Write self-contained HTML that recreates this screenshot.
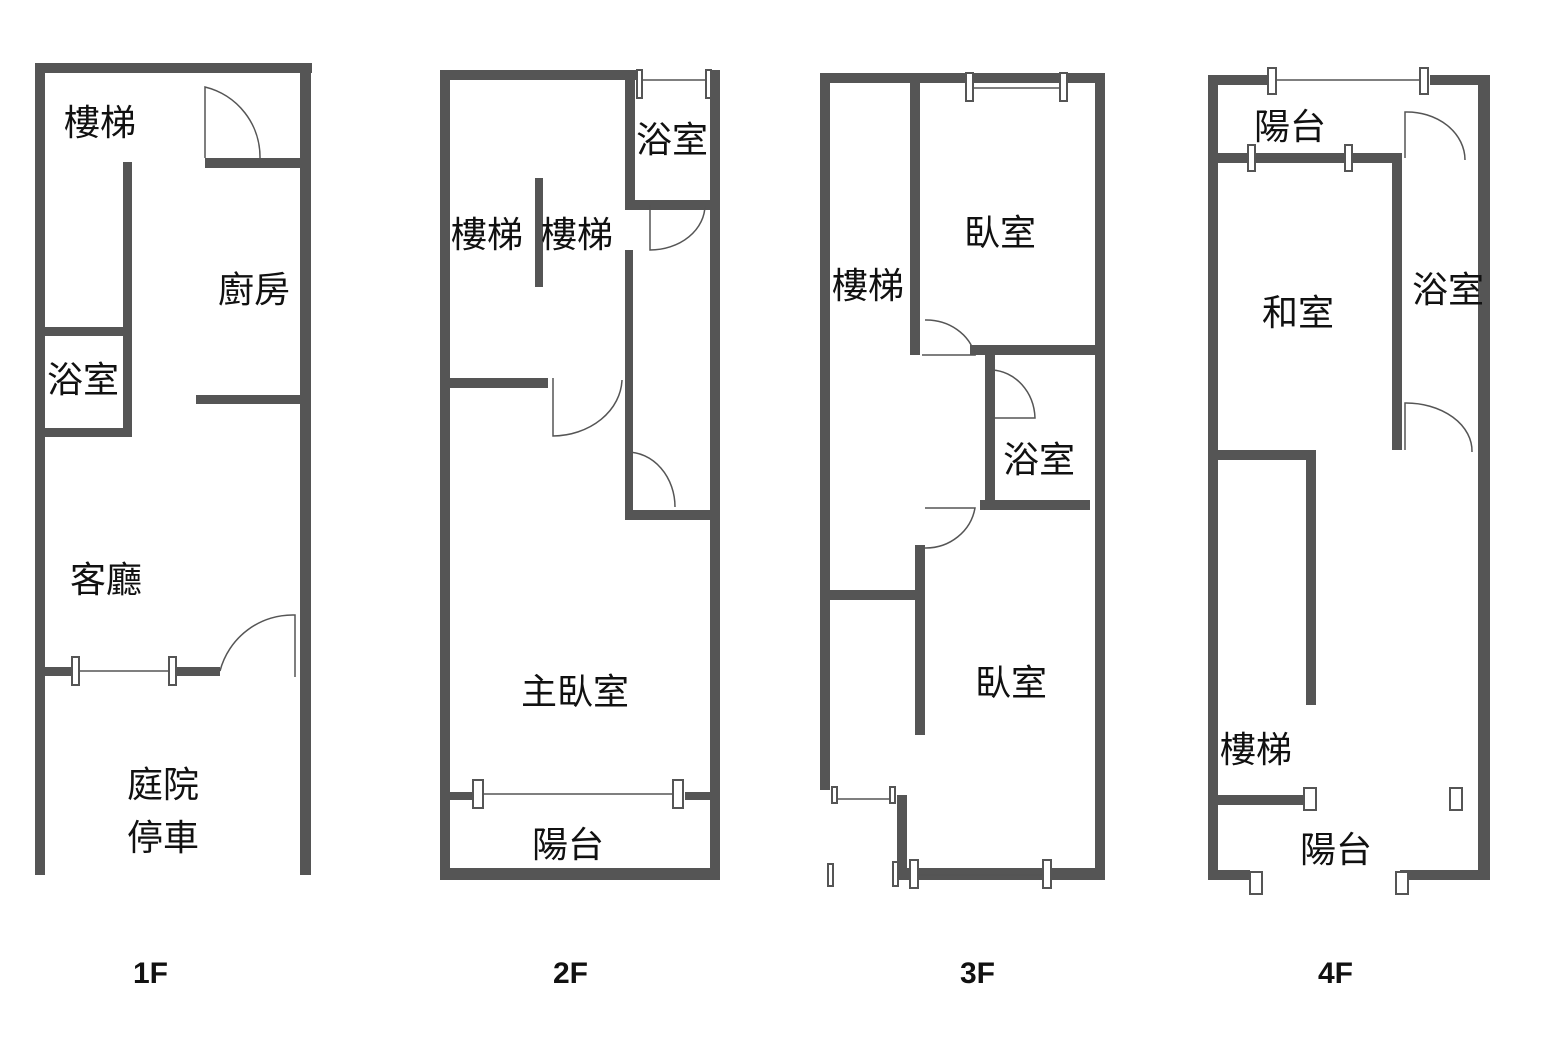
<!DOCTYPE html>
<html><head><meta charset="utf-8"><style>
html,body{margin:0;padding:0;background:#fff;}
svg{display:block;}
text{font-family:"Liberation Sans","Noto Sans CJK TC",sans-serif;fill:#111;}
.l{font-size:36px;}
.f{font-size:30px;font-weight:bold;}
</style></head><body>
<svg width="1565" height="1046" viewBox="0 0 1565 1046">
<g fill="#555">
<!-- 1F -->
<rect x="35" y="63" width="277" height="10"/>
<rect x="35" y="63" width="10" height="812"/>
<rect x="300" y="63" width="11" height="812"/>
<rect x="205" y="158" width="95" height="10"/>
<rect x="123" y="162" width="9" height="170"/>
<rect x="35" y="327" width="97" height="9"/>
<rect x="35" y="428" width="97" height="9"/>
<rect x="123" y="327" width="9" height="110"/>
<rect x="196" y="395" width="104" height="9"/>
<rect x="35" y="667" width="40" height="9"/>
<rect x="172" y="667" width="48" height="9"/>
<!-- 2F -->
<rect x="440" y="70" width="197" height="10"/>
<rect x="440" y="70" width="10" height="810"/>
<rect x="710" y="70" width="10" height="810"/>
<rect x="440" y="868" width="280" height="12"/>
<rect x="625" y="70" width="10" height="140"/>
<rect x="625" y="250" width="8" height="262"/>
<rect x="635" y="200" width="75" height="10"/>
<rect x="535" y="178" width="8" height="109"/>
<rect x="440" y="378" width="108" height="10"/>
<rect x="625" y="510" width="85" height="10"/>
<rect x="440" y="792" width="35" height="8"/>
<rect x="685" y="792" width="25" height="8"/>
<!-- 3F -->
<rect x="820" y="73" width="285" height="10"/>
<rect x="820" y="73" width="10" height="717"/>
<rect x="1095" y="73" width="10" height="807"/>
<rect x="900" y="868" width="205" height="12"/>
<rect x="910" y="83" width="10" height="272"/>
<rect x="970" y="345" width="130" height="10"/>
<rect x="985" y="350" width="10" height="160"/>
<rect x="980" y="500" width="110" height="10"/>
<rect x="915" y="545" width="10" height="190"/>
<rect x="830" y="590" width="90" height="10"/>
<rect x="897" y="795" width="10" height="85"/>
<!-- 4F -->
<rect x="1208" y="75" width="10" height="805"/>
<rect x="1478" y="75" width="12" height="805"/>
<rect x="1208" y="75" width="60" height="10"/>
<rect x="1430" y="75" width="60" height="10"/>
<rect x="1218" y="153" width="180" height="10"/>
<rect x="1392" y="153" width="10" height="297"/>
<rect x="1218" y="450" width="98" height="10"/>
<rect x="1306" y="450" width="10" height="255"/>
<rect x="1218" y="795" width="92" height="10"/>
<rect x="1208" y="870" width="42" height="10"/>
<rect x="1400" y="870" width="90" height="10"/>
</g>
<g fill="#fff" stroke="#555" stroke-width="2">
<rect x="72" y="657" width="7" height="28"/><rect x="169" y="657" width="7" height="28"/>
<rect x="473" y="780" width="10" height="28"/><rect x="673" y="780" width="10" height="28"/>
<rect x="637" y="70" width="5" height="28"/><rect x="706" y="70" width="5" height="28"/>
<rect x="966" y="73" width="7" height="28"/><rect x="1060" y="73" width="7" height="28"/>
<rect x="1268" y="68" width="8" height="26"/><rect x="1420" y="68" width="8" height="26"/>
<rect x="1248" y="145" width="7" height="26"/><rect x="1345" y="145" width="7" height="26"/>
<rect x="1304" y="788" width="12" height="22"/><rect x="1450" y="788" width="12" height="22"/>
<rect x="1250" y="872" width="12" height="22"/><rect x="1396" y="872" width="12" height="22"/>
<rect x="832" y="787" width="5" height="16"/><rect x="890" y="787" width="5" height="16"/>
<rect x="910" y="860" width="8" height="28"/><rect x="1043" y="860" width="8" height="28"/>
<rect x="893" y="862" width="5" height="24"/><rect x="828" y="864" width="5" height="22"/>
</g>
<g fill="none" stroke="#555" stroke-width="1.5">
<line x1="79" y1="671" x2="169" y2="671"/>
<line x1="483" y1="794" x2="673" y2="794"/>
<line x1="642" y1="80" x2="706" y2="80"/>
<line x1="973" y1="88" x2="1060" y2="88"/>
<line x1="1276" y1="80" x2="1420" y2="80"/>
<line x1="1255" y1="158" x2="1345" y2="158"/>
<line x1="837" y1="799" x2="890" y2="799"/>
<line x1="918" y1="875" x2="1043" y2="875"/>
<path d="M205 158 L205 87 A72 72 0 0 1 260 158"/>
<path d="M220 671 A75 75 0 0 1 295 615 L295 677"/>
<path d="M650 205 L650 250 A55 45 0 0 0 705 205"/>
<path d="M553 378 L553 436 A70 58 0 0 0 622 380"/>
<path d="M627 510 L627 452 A48 55 0 0 1 675 507"/>
<path d="M922 355 L975 355 A50 45 0 0 0 925 320"/>
<path d="M992 370 A45 50 0 0 1 1035 418 L990 418"/>
<path d="M925 548 A50 48 0 0 0 975 508 L925 508"/>
<path d="M1405 158 L1405 112 A58 48 0 0 1 1465 160"/>
<path d="M1405 450 L1405 403 A66 48 0 0 1 1472 452"/>
</g>
<text class="l" x="64" y="135">樓梯</text>
<text class="l" x="218" y="302">廚房</text>
<text class="l" x="47" y="392">浴室</text>
<text class="l" x="70" y="592">客廳</text>
<text class="l" x="127" y="797">庭院</text>
<text class="l" x="127" y="850">停車</text>
<text class="l" x="451" y="247">樓梯</text>
<text class="l" x="541" y="247">樓梯</text>
<text class="l" x="636" y="152">浴室</text>
<text class="l" x="521" y="704">主臥室</text>
<text class="l" x="532" y="857">陽台</text>
<text class="l" x="832" y="298">樓梯</text>
<text class="l" x="964" y="245">臥室</text>
<text class="l" x="1003" y="472">浴室</text>
<text class="l" x="975" y="695">臥室</text>
<text class="l" x="1254" y="139">陽台</text>
<text class="l" x="1262" y="325">和室</text>
<text class="l" x="1412" y="302">浴室</text>
<text class="l" x="1220" y="762">樓梯</text>
<text class="l" x="1300" y="862">陽台</text>
<text class="f" x="133" y="983">1F</text>
<text class="f" x="553" y="983">2F</text>
<text class="f" x="960" y="983">3F</text>
<text class="f" x="1318" y="983">4F</text>
</svg>
</body></html>
